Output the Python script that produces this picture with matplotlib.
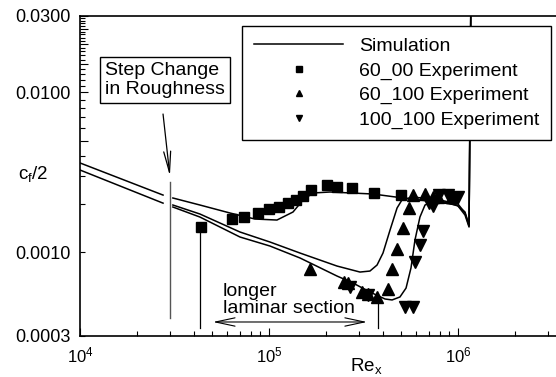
import numpy as np
import matplotlib
matplotlib.use("Agg")
import matplotlib.pyplot as plt
from matplotlib.ticker import FixedLocator, FuncFormatter, LogLocator, NullFormatter
from matplotlib.lines import Line2D

plt.rcParams['font.family'] = ['Liberation Sans', 'DejaVu Sans']
plt.rcParams['mathtext.fontset'] = 'custom'
plt.rcParams['mathtext.rm'] = 'Liberation Sans'
plt.rcParams['mathtext.it'] = 'Liberation Sans:italic'
plt.rcParams['mathtext.default'] = 'regular'

# simulation, upstream of the roughness step
re_up = [1.0e4, 2.75e4]
cf_up_smooth = [0.00362, 0.00228]
cf_up_rough = [0.00327, 0.00203]

# simulation downstream of the step, one curve per case
re_sim_60_00 = [3.10e4, 4.31e4, 6.22e4, 8.43e4, 1.102e5, 1.34e5, 1.513e5, 1.709e5,
                2.103e5, 3.55e5, 5.12e5, 7.74e5, 9.88e5, 1.089e6, 1.144e6, 1.172e6]
cf_sim_60_00 = [0.002186, 0.001976, 0.001761, 0.001615, 0.001592, 0.001787, 0.002124, 0.002349,
                0.002383, 0.002315, 0.002186, 0.002063, 0.001976, 0.001787, 0.001482, 0.05]

re_sim_60_100 = [3.10e4, 4.31e4, 7.02e4, 1.012e5, 1.459e5, 2.29e5, 3.03e5, 3.42e5, 3.73e5,
                 4.01e5, 4.37e5, 4.76e5, 5.05e5, 5.78e5, 8.03e5, 1.0e6, 1.089e6, 1.144e6, 1.172e6]
cf_sim_60_100 = [0.001976, 0.001736, 0.001340, 0.001160, 0.000990, 0.000821, 0.000753, 0.000764, 0.000833,
                 0.000990, 0.001379, 0.001893, 0.002124, 0.002217, 0.002124, 0.002005, 0.001761, 0.001461, 0.05]

re_sim_100_100 = [3.10e4, 4.31e4, 7.02e4, 1.012e5, 1.459e5, 2.29e5, 2.782e5, 3.42e5, 4.11e5, 4.48e5,
                  4.93e5, 5.31e5, 5.64e5, 5.92e5, 6.29e5, 6.69e5, 7.29e5, 8.53e5, 1.0e6, 1.089e6,
                  1.144e6, 1.172e6]
cf_sim_100_100 = [0.001920, 0.001662, 0.001247, 0.001095, 0.000922, 0.000711, 0.000643, 0.000565, 0.000511, 0.000504,
                  0.000526, 0.000598, 0.000799, 0.001194, 0.001662, 0.001976, 0.002063, 0.002063, 0.001948, 0.001711,
                  0.001440, 0.05]

# experiments
re_exp_60_00 = [4.368e4, 6.37e4, 7.38e4, 8.74e4, 1.0e5, 1.129e5, 1.26e5, 1.39e5, 1.513e5,
                1.668e5, 2.027e5, 2.29e5, 2.75e5, 3.59e5, 4.99e5]
cf_exp_60_00 = [0.001440, 0.001615, 0.001662, 0.001761, 0.001866, 0.001920, 0.002034, 0.002124, 0.002249,
                0.002452, 0.002634, 0.002561, 0.002524, 0.002349, 0.002283]

re_exp_60_100 = [1.648e5, 2.494e5, 2.618e5, 3.105e5, 3.34e5, 3.73e5, 4.26e5, 4.48e5, 4.76e5,
                 5.12e5, 5.505e5, 5.78e5, 6.69e5, 7.375e5, 7.84e5, 9.30e5]
cf_exp_60_100 = [0.000787, 0.000653, 0.000643, 0.000565, 0.000549, 0.000526, 0.000590, 0.000787, 0.001049,
                 0.001419, 0.001893, 0.002283, 0.002315, 0.002217, 0.002217, 0.002217]

re_exp_100_100 = [2.683e5, 3.34e5, 5.245e5, 5.78e5, 5.92e5, 6.29e5, 6.53e5, 7.02e5, 7.375e5,
                  7.93e5, 8.85e5, 1.0e6]
cf_exp_100_100 = [0.000607, 0.000541, 0.000455, 0.000455, 0.000870, 0.001111, 0.001359, 0.002034, 0.001948,
                  0.002283, 0.002283, 0.002217]

re_step = 3.0e4

fig = plt.figure(figsize=(5.56, 3.77), dpi=100)
ax = fig.add_axes([80 / 556, 41 / 377, 476 / 556, 320 / 377])

lw = 1.1
for re, cf in [(re_up, cf_up_smooth), (re_up, cf_up_rough),
               (re_sim_60_00, cf_sim_60_00), (re_sim_60_100, cf_sim_60_100),
               (re_sim_100_100, cf_sim_100_100)]:
    ax.plot(re, cf, color='black', lw=lw)

ax.plot(re_exp_60_00, cf_exp_60_00, 's', color='black', ms=6.5, ls='none')
ax.plot(re_exp_60_100, cf_exp_60_100, '^', color='black', ms=8, ls='none')
ax.plot(re_exp_100_100, cf_exp_100_100, 'v', color='black', ms=8, ls='none')

# step change marker and annotations
ax.plot([re_step, re_step], [0.00275, 0.000389], color='#555555', lw=1)
ax.plot([4.33e4, 4.33e4], [0.00138, 0.000337], color='black', lw=0.9)
ax.plot([3.77e5, 3.77e5], [0.000526, 0.000337], color='black', lw=0.9)

ax.text(1.36e4, 0.0119, 'Step Change\nin Roughness', fontsize=14, ha='left', va='center',
        linespacing=1.15,
        bbox=dict(boxstyle='square,pad=0.25', fc='white', ec='black', lw=1))
ax.annotate('', xy=(2.99e4, 0.0030), xytext=(2.75e4, 0.00732),
            arrowprops=dict(arrowstyle='->,head_length=1.5,head_width=0.25', lw=0.9,
                            color='black', mutation_scale=10, shrinkA=0, shrinkB=0))
ax.annotate('', xy=(5.05e4, 0.000367), xytext=(3.3e5, 0.000367),
            arrowprops=dict(arrowstyle='<->,head_length=1.4,head_width=0.3', lw=0.8,
                            color='black', mutation_scale=10, shrinkA=0, shrinkB=0))
ax.text(5.71e4, 0.000504, 'longer\nlaminar section', fontsize=14, ha='left', va='center',
        linespacing=1.05)

ax.set_xscale('log')
ax.set_yscale('log')
ax.set_xlim(1e4, 3.3e6)
ax.set_ylim(0.0003, 0.03)

ax.xaxis.set_major_locator(FixedLocator([1e4, 1e5, 1e6]))
ax.xaxis.set_major_formatter(FuncFormatter(lambda v, p: r'$10^{%d}$' % round(np.log10(v))))
ax.xaxis.set_minor_locator(LogLocator(base=10, subs=np.arange(2, 10)))
ax.xaxis.set_minor_formatter(NullFormatter())

y_labelled = [0.0003, 0.001, 0.01, 0.03]

def y_fmt(v, p):
    for t in y_labelled:
        if np.isclose(v, t):
            return f'{t:.4f}'
    return ''

ax.yaxis.set_major_locator(FixedLocator(np.arange(1, 7) * 0.005))
ax.yaxis.set_minor_locator(FixedLocator([0.0003] + list(np.arange(1, 31) * 0.001)))
ax.yaxis.set_major_formatter(FuncFormatter(y_fmt))
ax.yaxis.set_minor_formatter(FuncFormatter(y_fmt))

ax.tick_params(axis='both', which='both', direction='in', width=0.8, top=False, right=False)
ax.tick_params(axis='x', which='major', length=6, labelsize=12, pad=7)
ax.tick_params(axis='x', which='minor', length=3.5)
ax.tick_params(axis='y', which='major', length=6, labelsize=13, pad=7)
ax.tick_params(axis='y', which='minor', length=3.5, labelsize=13, pad=7)

for s in ['left', 'bottom', 'top']:
    ax.spines[s].set_linewidth(1.2)
ax.spines['right'].set_visible(False)

fig.text(33 / 556, 1 - 174 / 377, r'c$_f$/2', fontsize=13.5, ha='center', va='center')
fig.text(366 / 556, 1 - 366 / 377, r'Re$_x$', fontsize=13.5, ha='center', va='center')

handles = [
    Line2D([], [], color='black', lw=lw),
    Line2D([], [], marker='s', color='black', ls='none', ms=5),
    Line2D([], [], marker='^', color='black', ls='none', ms=5),
    Line2D([], [], marker='v', color='black', ls='none', ms=5),
]
labels = ['Simulation', '60_00 Experiment', '60_100 Experiment', '100_100 Experiment']
leg = ax.legend(handles, labels, loc='upper right', bbox_to_anchor=(551 / 556, 1 - 26 / 377),
                bbox_transform=fig.transFigure, fontsize=14, frameon=True, fancybox=False,
                framealpha=1, edgecolor='black', handlelength=4.6, handletextpad=0.8,
                labelspacing=0.34, borderpad=0.6, borderaxespad=0)
leg.get_frame().set_linewidth(1.0)
leg.set_zorder(5)

fig.savefig('out.png', dpi=100)
